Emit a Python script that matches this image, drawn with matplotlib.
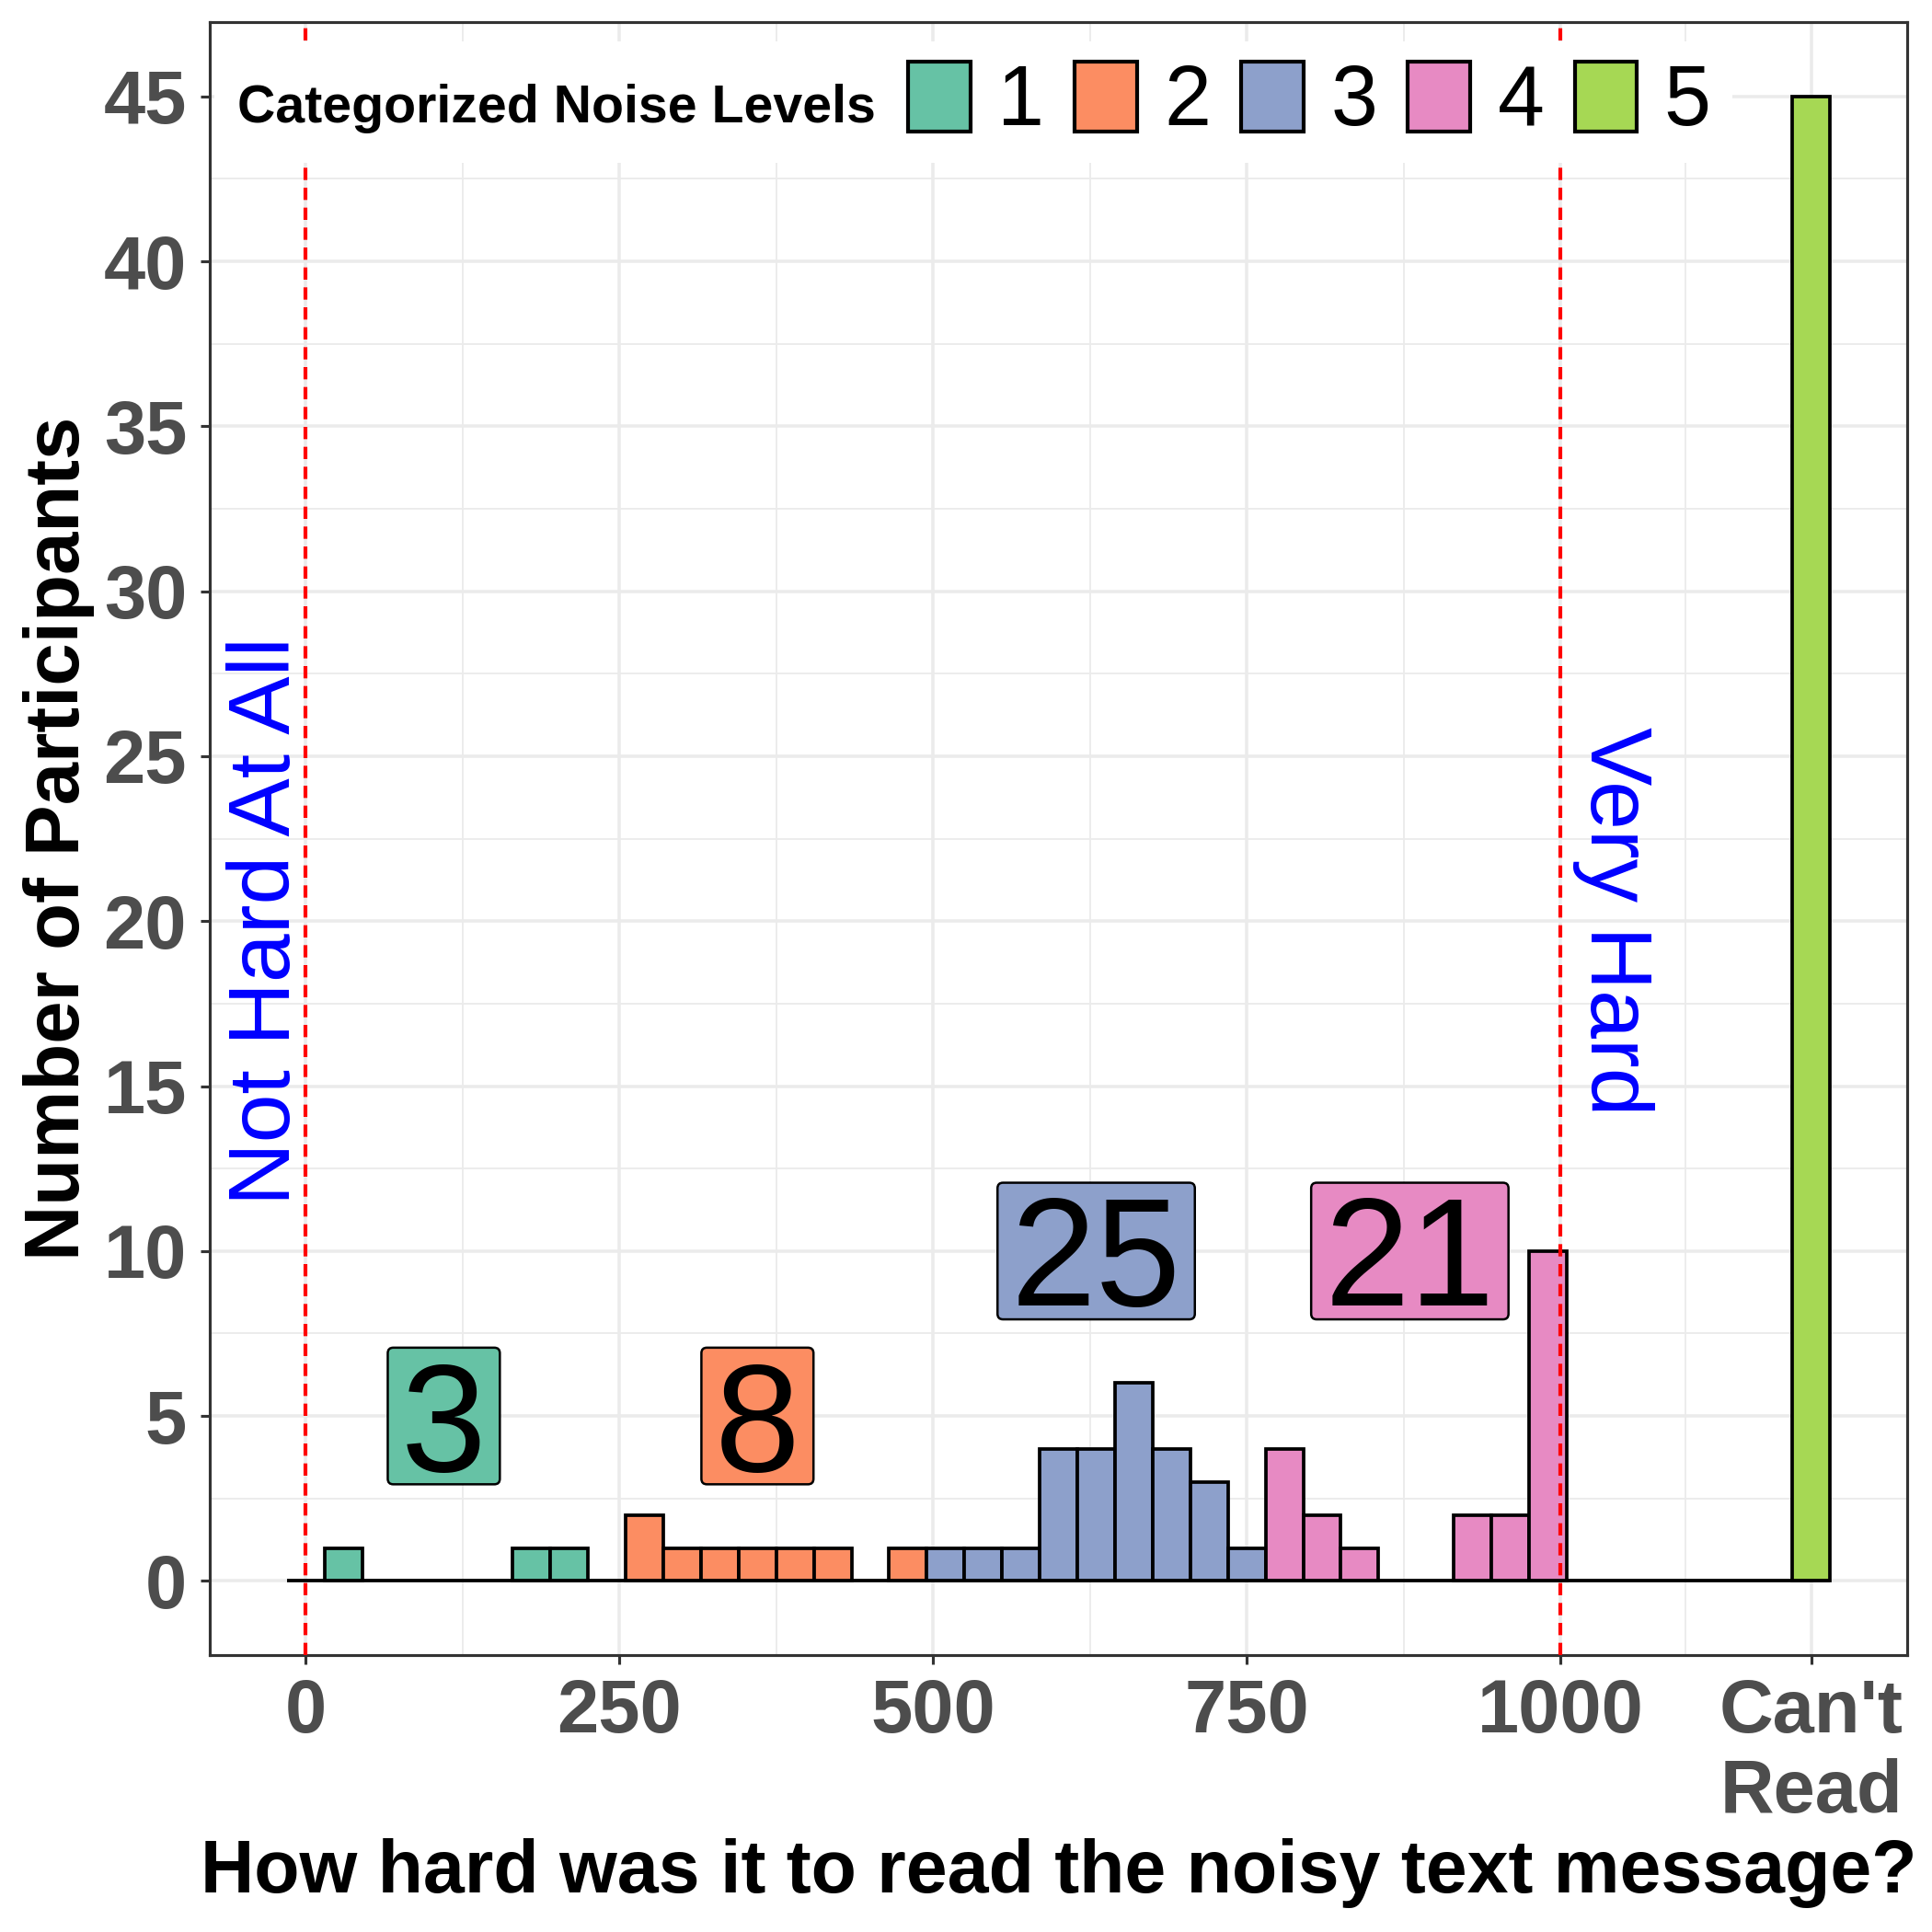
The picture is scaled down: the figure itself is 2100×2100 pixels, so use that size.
import matplotlib
matplotlib.use("Agg")
import matplotlib.pyplot as plt
import matplotlib.transforms as mtransforms
from matplotlib.patches import Patch, Rectangle, FancyBboxPatch
from matplotlib.ticker import FixedLocator

plt.rcParams['font.family'] = ['Liberation Sans', 'DejaVu Sans']

# histogram bins (30 wide, labelled by centre) that hold at least one participant
bin_centers = [30, 180, 210, 270, 300, 330, 360, 390, 420, 480, 510, 540, 570,
               600, 630, 660, 690, 720, 750, 780, 810, 840, 930, 960, 990, 1200]
bin_counts = [1, 1, 1, 2, 1, 1, 1, 1, 1, 1, 1, 1, 1,
              4, 4, 6, 4, 3, 1, 4, 2, 1, 2, 2, 10, 45]
bin_levels = [1, 1, 1, 2, 2, 2, 2, 2, 2, 2, 3, 3, 3,
              3, 3, 3, 3, 3, 3, 4, 4, 4, 4, 4, 4, 5]
bin_width = 30
first_bin, last_bin = 0, 1200

noise_levels = [1, 2, 3, 4, 5]
level_colors = ['#66C2A5', '#FC8D62', '#8DA0CB', '#E78AC3', '#A6D854']

# where the per-level totals are written
label_levels = [1, 2, 3, 4]
label_x = [110, 360, 630, 880]
label_y = [5, 5, 10, 10]

x_ticks = [0, 250, 500, 750, 1000, 1200]
x_tick_labels = ['0', '250', '500', '750', '1000', "Can't\nRead"]
x_minor = [125, 375, 625, 875, 1100]
y_ticks = [0, 5, 10, 15, 20, 25, 30, 35, 40, 45]
y_minor = [2.5, 7.5, 12.5, 17.5, 22.5, 27.5, 32.5, 37.5, 42.5]

fig = plt.figure(figsize=(7, 7), dpi=300)
ax = fig.add_axes([0.1086, 0.1433, 0.8786, 0.8452])

# zero-count bins still get an outline, like ggplot's geom_histogram
ax.hlines(0, first_bin - bin_width / 2, last_bin + bin_width / 2,
          color='black', lw=0.9, zorder=2)
bar_colors = [level_colors[l - 1] for l in bin_levels]
ax.bar(bin_centers, bin_counts, width=bin_width, color=bar_colors,
       edgecolor='black', linewidth=0.9, zorder=3)

for xv in (0, 1000):
    ax.axvline(xv, color='red', lw=1.0, dashes=(3.2, 2.0), zorder=4)

ax.text(-31, 20, 'Not Hard At All', rotation=90, color='blue', fontsize=22.8,
        ha='center', va='center', zorder=4)
ax.text(1042, 20, 'Very Hard', rotation=-90, color='blue', fontsize=22.8,
        ha='center', va='center', zorder=4)

# total count per level in a rounded box
fs = 40
pad = 3.5
for lvl, lx, ly in zip(label_levels, label_x, label_y):
    txt = str(sum(c for c, l in zip(bin_counts, bin_levels) if l == lvl))
    w = (len(txt) * 0.556 * fs + 2 * pad) / 72
    h = (0.716 * fs + 2 * pad) / 72
    trans = fig.dpi_scale_trans + mtransforms.ScaledTranslation(lx, ly, ax.transData)
    box = FancyBboxPatch((-w / 2, -h / 2), w, h,
                         boxstyle='round,pad=0,rounding_size=0.02',
                         transform=trans, facecolor=level_colors[lvl - 1],
                         edgecolor='black', lw=0.6, zorder=5)
    ax.add_patch(box)
    ax.annotate(txt, (lx, ly), xytext=(0, -0.716 * fs / 2), textcoords='offset points',
                ha='center', va='baseline', fontsize=fs, zorder=6)

# legend: white panel, title on the left, keys in one row
ax.add_patch(Rectangle((0.0027, 0.9138), 0.8943, 0.0744, transform=ax.transAxes,
                       facecolor='white', edgecolor='none', zorder=7))
ax.text(0.0163, 0.9386, 'Categorized Noise Levels', transform=ax.transAxes,
        fontsize=13.75, fontweight='bold', va='baseline', ha='left', zorder=8)
handles = [Patch(facecolor=c, edgecolor='black', linewidth=1.0) for c in level_colors]
leg = ax.legend(handles, [str(n) for n in noise_levels], ncol=5, loc='center left',
                bbox_to_anchor=(0.4114, 0.951), frameon=False, fontsize=22,
                handlelength=0.74, handleheight=0.9, handletextpad=0.32,
                columnspacing=0.36, borderpad=0, borderaxespad=0)
leg.set_zorder(8)

ax.set_xticks(x_ticks)
ax.set_xticklabels(x_tick_labels, linespacing=1.18)
ax.xaxis.set_minor_locator(FixedLocator(x_minor))
ax.set_yticks(y_ticks)
ax.yaxis.set_minor_locator(FixedLocator(y_minor))

ax.grid(which='major', color='#EBEBEB', lw=0.85)
ax.grid(which='minor', color='#EBEBEB', lw=0.45)
ax.set_axisbelow(True)

ax.tick_params(which='major', length=2.5, width=0.75, color='#333333',
               labelcolor='#4D4D4D', labelsize=19.5, pad=3.5)
ax.tick_params(which='minor', length=0)
for lbl in ax.get_xticklabels() + ax.get_yticklabels():
    lbl.set_fontweight('bold')
for sp in ax.spines.values():
    sp.set_color('#333333')
    sp.set_linewidth(0.75)

ax.set_xlabel('How hard was it to read the noisy text message?',
              fontsize=19.4, fontweight='bold', labelpad=2.7)
ax.set_ylabel('Number of Participants', fontsize=20, fontweight='bold', labelpad=2.2)

ax.set_xlim(-76.5, 1276.5)
ax.set_ylim(-2.25, 47.25)

fig.savefig('out.png', dpi=300)
